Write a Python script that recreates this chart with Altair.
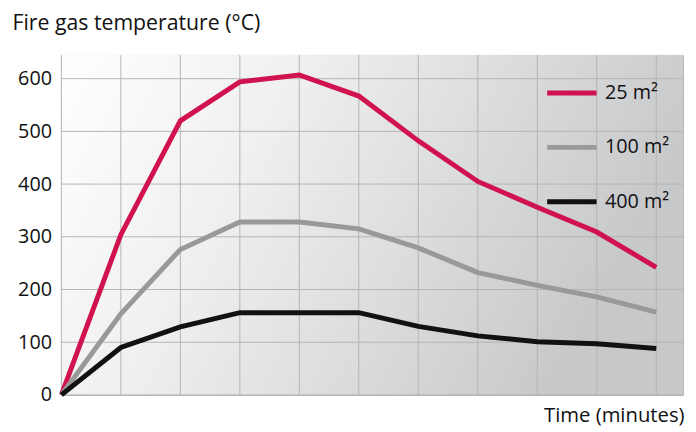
import altair as alt
import pandas as pd

minutes = [0, 1, 2, 3, 4, 5, 6, 7, 8, 9, 10]
temp_25 = [0, 304, 520, 594, 607, 567, 482, 405, 356, 309, 242]
temp_100 = [0, 154, 276, 328, 328, 315, 279, 232, 208, 186, 157]
temp_400 = [0, 90, 129, 156, 156, 156, 130, 112, 101, 97, 88]
series = ["25 m²", "100 m²", "400 m²"]
colors = ["#d0134f", "#999999", "#111111"]
y_ticks = [0, 100, 200, 300, 400, 500, 600]

rows = []
for name, vals in zip(series, [temp_25, temp_100, temp_400]):
    for m, v in zip(minutes, vals):
        rows.append({"minute": m, "temp": v, "area": name})
df = pd.DataFrame(rows)

W, H = 629, 344
FONT = "Open Sans"
GRID = "#b4b4b4"

xscale = alt.Scale(domain=[0, 10.45], nice=False, zero=False)
yscale = alt.Scale(domain=[0, 645], nice=False)

bg = alt.Chart(pd.DataFrame({"a": [0]})).mark_rect(
    color=alt.Gradient(
        gradient="linear",
        stops=[alt.GradientStop(offset=0, color="#ffffff"),
               alt.GradientStop(offset=0.35, color="#f0f0f0"),
               alt.GradientStop(offset=1, color="#c6c8ca")],
        x1=0, x2=1, y1=0, y2=0.3,
    )
).encode(x=alt.value(0), x2=alt.value(W), y=alt.value(0), y2=alt.value(H))

vgrid = alt.Chart(pd.DataFrame({"minute": minutes})).mark_rule(
    color=GRID, strokeWidth=1
).encode(x=alt.X("minute:Q", scale=xscale), y=alt.value(0), y2=alt.value(H))

hgrid = alt.Chart(pd.DataFrame({"temp": y_ticks})).mark_rule(
    color=GRID, strokeWidth=1
).encode(y=alt.Y("temp:Q", scale=yscale), x=alt.value(0), x2=alt.value(W))

lines = alt.Chart(df).mark_line(strokeWidth=5, strokeJoin="miter").encode(
    x=alt.X("minute:Q", scale=xscale,
            axis=alt.Axis(values=minutes, labels=False, ticks=False, domain=False,
                          grid=False,
                          title="Time (minutes)", titleFont=FONT, titleFontSize=20.5,
                          titleFontWeight="normal", titleColor="#111",
                          titleAlign="right", titleAnchor="end", titleX=W + 1,
                          titleY=27, titleBaseline="alphabetic")),
    y=alt.Y("temp:Q", scale=yscale,
            axis=alt.Axis(values=y_ticks, ticks=False, domain=False, grid=False,
                          labelFont=FONT, labelFontSize=20, labelColor="#111",
                          labelPadding=10,
                          title="Fire gas temperature (°C)", titleFont=FONT,
                          titleFontSize=21.5, titleFontWeight="normal",
                          titleColor="#111", titleAngle=0, titleAlign="left",
                          titleX=-50, titleY=-26, titleBaseline="alphabetic")),
    color=alt.Color("area:N",
                    scale=alt.Scale(domain=series, range=colors),
                    sort=series,
                    legend=alt.Legend(title=None, orient="none",
                                      legendX=489, legendY=11,
                                      symbolType="stroke", symbolSize=2500,
                                      symbolStrokeWidth=5, rowPadding=17,
                                      labelFont=FONT, labelFontSize=20,
                                      labelColor="#111", labelOffset=6)),
    order=alt.Order("minute:Q"),
)

chart = alt.layer(bg, vgrid, hgrid, lines).properties(
    width=W, height=H,
    autosize=alt.AutoSizeParams(type="none"),
    padding={"left": 54, "top": 45, "right": 5, "bottom": 34},
).configure_view(stroke=GRID, strokeWidth=1)

chart.save("out.html", embed_options={"renderer": "svg", "actions": False})
